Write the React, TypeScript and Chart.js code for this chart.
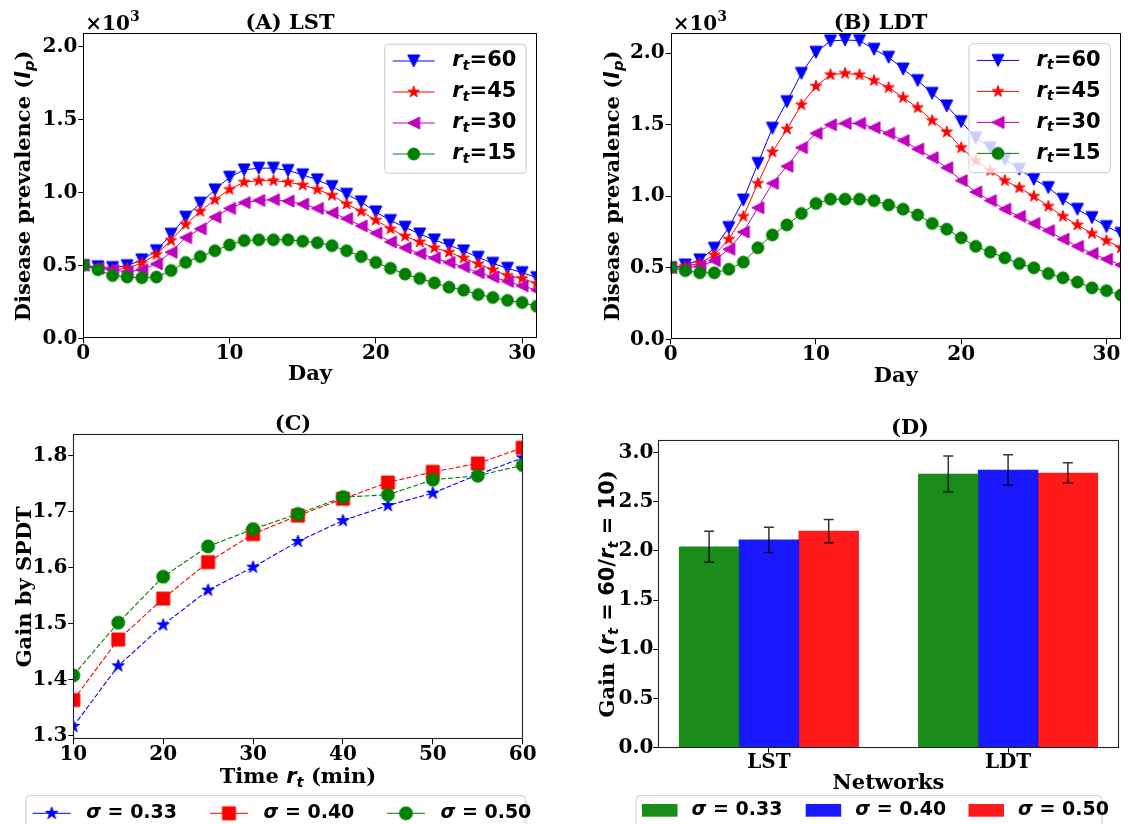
import React, { useEffect, useRef } from 'react';
import { Chart, registerables } from 'chart.js';

Chart.register(...registerables);

// ---------------- data ----------------
const days = [0, 1, 2, 3, 4, 5, 6, 7, 8, 9, 10, 11, 12, 13, 14, 15, 16, 17, 18, 19, 20, 21, 22, 23, 24, 25, 26, 27, 28, 29, 30, 31];

// (A) LST disease prevalence
const lstR60 = [498, 490, 485, 498, 537, 600, 713, 830, 926, 1017, 1104, 1154, 1166, 1166, 1150, 1120, 1086, 1040, 987, 935, 866, 807, 761, 715, 674, 638, 599, 555, 514, 480, 450, 416];
const lstR45 = [500, 480, 470, 480, 515, 575, 670, 780, 870, 950, 1020, 1070, 1080, 1080, 1070, 1050, 1020, 980, 920, 870, 810, 750, 700, 660, 620, 590, 550, 510, 470, 430, 410, 375];
const lstR30 = [500, 480, 470, 455, 470, 510, 590, 690, 750, 830, 890, 930, 945, 950, 940, 920, 890, 860, 820, 770, 720, 660, 620, 580, 550, 520, 490, 450, 420, 390, 360, 330];
const lstR15 = [500, 470, 430, 420, 415, 420, 465, 520, 560, 600, 640, 670, 675, 675, 675, 665, 655, 635, 600, 560, 520, 480, 440, 410, 380, 350, 330, 300, 280, 260, 245, 220];

// (B) LDT disease prevalence
const ldtR60 = [500, 520, 555, 637, 781, 974, 1230, 1476, 1662, 1860, 2007, 2086, 2093, 2089, 2028, 1972, 1890, 1809, 1720, 1632, 1522, 1410, 1340, 1259, 1189, 1119, 1061, 979, 909, 851, 788, 741];
const ldtR45 = [500, 510, 530, 590, 700, 860, 1090, 1310, 1470, 1640, 1770, 1850, 1860, 1850, 1810, 1760, 1690, 1620, 1530, 1450, 1340, 1250, 1180, 1110, 1060, 1000, 930, 860, 800, 740, 690, 640];
const ldtR30 = [500, 500, 510, 550, 630, 750, 920, 1090, 1210, 1340, 1440, 1500, 1510, 1510, 1480, 1440, 1390, 1330, 1270, 1200, 1110, 1030, 970, 910, 860, 810, 760, 700, 650, 600, 560, 520];
const ldtR15 = [500, 480, 465, 465, 490, 540, 640, 730, 800, 880, 950, 980, 980, 980, 970, 940, 910, 870, 810, 770, 710, 650, 610, 570, 530, 500, 460, 430, 400, 360, 340, 310];

const rtLabels = ['60', '45', '30', '15'];

// (C) gain by SPDT vs time r_t
const timeRt = [10, 15, 20, 25, 30, 35, 40, 45, 50, 55, 60];
const gainS033 = [1.317, 1.425, 1.498, 1.56, 1.601, 1.647, 1.684, 1.711, 1.733, 1.766, 1.796];
const gainS040 = [1.364, 1.472, 1.545, 1.61, 1.66, 1.693, 1.723, 1.752, 1.771, 1.786, 1.814];
const gainS050 = [1.408, 1.502, 1.584, 1.638, 1.669, 1.696, 1.726, 1.73, 1.757, 1.764, 1.783];
const sigmaLabels = ['0.33', '0.40', '0.50'];

// (D) gain (r_t = 60 / r_t = 10) per network
const networks = ['LST', 'LDT'];
const barS033 = [2.04, 2.78];
const errS033 = [0.157, 0.183];
const barS040 = [2.11, 2.82];
const errS040 = [0.128, 0.155];
const barS050 = [2.2, 2.79];
const errS050 = [0.118, 0.105];

// ticks
const dayTicks = [0, 10, 20, 30];
const prevTicks = [0, 500, 1000, 1500, 2000];
const timeTicks = [10, 20, 30, 40, 50, 60];
const gainTicks = [1.3, 1.4, 1.5, 1.6, 1.7, 1.8];
const barTicks = [0, 0.5, 1, 1.5, 2, 2.5, 3];
const netTicks = [0, 1];

// ---------------- styles ----------------
const SERIF = '"DejaVu Serif", "Liberation Serif", serif';
const SANS = '"DejaVu Sans", "Liberation Sans", sans-serif';
const lineColors = ['#0000ff', '#ff0000', '#bf00bf', '#008000'];
const lineShapes = ['triDown', 'star', 'triLeft', 'circle'];
const cColors = ['#0000ff', '#ff0000', '#008000'];
const cShapes = ['star', 'square', 'circle'];
const barColors = ['rgba(0,128,0,0.9)', 'rgba(0,0,255,0.9)', 'rgba(255,0,0,0.9)'];

type Seg = { t: string; sans?: boolean; it?: boolean; sub?: boolean; sup?: boolean };

function fontOf(s: Seg, size: number) {
  const sz = s.sub || s.sup ? size * 0.7 : size;
  return `${s.it ? 'italic ' : ''}bold ${sz}px ${s.sans ? SANS : SERIF}`;
}

function drawRich(ctx: CanvasRenderingContext2D, segs: Seg[], x: number, y: number, size: number, align = 'center', angle = 0, color = '#000') {
  ctx.save();
  ctx.translate(x, y);
  ctx.rotate(angle);
  ctx.fillStyle = color;
  ctx.textBaseline = 'middle';
  ctx.textAlign = 'left';
  let w = 0;
  for (const s of segs) {
    ctx.font = fontOf(s, size);
    w += ctx.measureText(s.t).width;
  }
  let cx = align === 'center' ? -w / 2 : align === 'right' ? -w : 0;
  for (const s of segs) {
    ctx.font = fontOf(s, size);
    const dy = s.sub ? size * 0.25 : s.sup ? -size * 0.38 : 0;
    ctx.fillText(s.t, cx, dy);
    cx += ctx.measureText(s.t).width;
  }
  ctx.restore();
}

function makeMarker(shape: string, ms: number, color: string) {
  const n = Math.ceil(ms) + 6;
  const c = document.createElement('canvas');
  c.width = n;
  c.height = n;
  const g = c.getContext('2d')!;
  const cx = n / 2, cy = n / 2, r = ms / 2;
  g.beginPath();
  if (shape === 'circle') g.arc(cx, cy, r, 0, Math.PI * 2);
  else if (shape === 'square') g.rect(cx - r, cy - r, 2 * r, 2 * r);
  else if (shape === 'triDown') { g.moveTo(cx, cy + r); g.lineTo(cx - r, cy - r); g.lineTo(cx + r, cy - r); g.closePath(); }
  else if (shape === 'triLeft') { g.moveTo(cx - r, cy); g.lineTo(cx + r, cy - r); g.lineTo(cx + r, cy + r); g.closePath(); }
  else if (shape === 'star') {
    for (let k = 0; k < 10; k++) {
      const a = -Math.PI / 2 + (k * Math.PI) / 5;
      const rr = k % 2 === 0 ? r : r * 0.381966;
      const px = cx + rr * Math.cos(a), py = cy + rr * Math.sin(a);
      if (k === 0) g.moveTo(px, py); else g.lineTo(px, py);
    }
    g.closePath();
  }
  g.fillStyle = color;
  g.fill();
  g.lineWidth = 1;
  g.strokeStyle = color;
  g.stroke();
  return c;
}

function roundRect(ctx: CanvasRenderingContext2D, x: number, y: number, w: number, h: number, r: number) {
  ctx.beginPath();
  ctx.moveTo(x + r, y);
  ctx.arcTo(x + w, y, x + w, y + h, r);
  ctx.arcTo(x + w, y + h, x, y + h, r);
  ctx.arcTo(x, y + h, x, y, r);
  ctx.arcTo(x, y, x + w, y, r);
  ctx.closePath();
}

function legendBox(ctx: CanvasRenderingContext2D, x: number, y: number, w: number, h: number) {
  ctx.save();
  roundRect(ctx, x, y, w, h, 4);
  ctx.fillStyle = 'rgba(255,255,255,0.8)';
  ctx.fill();
  ctx.strokeStyle = '#cccccc';
  ctx.lineWidth = 1;
  ctx.stroke();
  ctx.restore();
}

function frame(ctx: CanvasRenderingContext2D, ca: any, color: string, lw: number) {
  ctx.save();
  ctx.strokeStyle = color;
  ctx.lineWidth = lw;
  const l = Math.round(ca.left) + 0.5, t = Math.round(ca.top) + 0.5;
  const r = Math.round(ca.right) - 0.5, b = Math.round(ca.bottom) - 0.5;
  ctx.strokeRect(l, t, r - l, b - t);
  ctx.restore();
}

const tickFont = { family: SERIF, weight: 'bold' as const, size: 20, lineHeight: 1 };

function scaleOpts(min: number, max: number, ticks: number[], fmt: (v: number) => string, fit: { w?: number; h?: number; pad?: number }) {
  return {
    type: 'linear' as const,
    min,
    max,
    offset: false,
    afterBuildTicks: (s: any) => { s.ticks = ticks.map((v) => ({ value: v })); },
    afterFit: (s: any) => {
      if (fit.w !== undefined) s.width = fit.w;
      if (fit.h !== undefined) s.height = fit.h;
    },
    ticks: {
      font: tickFont,
      color: '#000',
      padding: fit.pad ?? 1,
      autoSkip: false,
      maxRotation: 0,
      minRotation: 0,
      callback: (v: any) => fmt(Number(v)),
    },
    grid: { display: true, drawOnChartArea: false, drawTicks: true, tickLength: 5, tickColor: '#000', lineWidth: 1, offset: false },
    border: { display: false },
  };
}

const ylabelAB: Seg[] = [{ t: 'Disease prevalence (' }, { t: 'I', sans: true, it: true }, { t: 'p', sans: true, it: true, sub: true }, { t: ')' }];

function prevalenceChart(canvas: HTMLCanvasElement, series: number[][], yMax: number, pad: any, yW: number, xH: number, title: string, titleX: number, ylabX: number, xlabY: number, markers: HTMLCanvasElement[]) {
  const deco = {
    id: 'deco' + title,
    afterDraw(chart: any) {
      const ctx = chart.ctx as CanvasRenderingContext2D;
      const ca = chart.chartArea;
      frame(ctx, ca, '#000', 1);
      drawRich(ctx, [{ t: title }], titleX, 24, 21);
      drawRich(ctx, [{ t: '×10' }, { t: '3', sup: true }], ca.left + 2, 25, 20, 'left');
      drawRich(ctx, ylabelAB, ylabX, (ca.top + ca.bottom) / 2, 21, 'center', -Math.PI / 2);
      drawRich(ctx, [{ t: 'Day' }], (ca.left + ca.right) / 2, xlabY, 21);
      // legend
      const w = 141.5, h = 129;
      const x0 = ca.right - 10.5 - w, y0 = ca.top + 11;
      legendBox(ctx, x0, y0, w, h);
      rtLabels.forEach((lab, i) => {
        const y = y0 + 16.7 + i * 31;
        ctx.save();
        ctx.strokeStyle = lineColors[i];
        ctx.lineWidth = 1;
        ctx.beginPath();
        ctx.moveTo(x0 + 8, y);
        ctx.lineTo(x0 + 50, y);
        ctx.stroke();
        const m = markers[i];
        ctx.drawImage(m, x0 + 29 - m.width / 2, y - m.height / 2);
        ctx.restore();
        drawRich(ctx, [{ t: 'r', sans: true, it: true }, { t: 't', sans: true, it: true, sub: true }, { t: '=' + lab, sans: true }], x0 + 67.5, y, 21, 'left');
      });
    },
  };
  return new Chart(canvas, {
    type: 'line',
    data: {
      datasets: series.map((vals, i) => ({
        label: 'r_t=' + rtLabels[i],
        data: days.map((d, k) => ({ x: d, y: vals[k] })),
        borderColor: lineColors[i],
        backgroundColor: lineColors[i],
        borderWidth: 1,
        tension: 0,
        pointStyle: markers[i] as any,
        pointRadius: 6,
        order: series.length - 1 - i,
      })),
    },
    options: {
      animation: false,
      responsive: false,
      events: [],
      layout: { padding: pad },
      scales: {
        x: scaleOpts(0, 31, dayTicks, (v) => String(v), { h: xH, pad: 0 }) as any,
        y: scaleOpts(0, yMax, prevTicks, (v) => (v / 1000).toFixed(1), { w: yW, pad: 1 }) as any,
      },
      plugins: { legend: { display: false }, title: { display: false }, tooltip: { enabled: false } },
    },
    plugins: [deco],
  });
}

export default function App() {
  const refA = useRef<HTMLCanvasElement>(null);
  const refB = useRef<HTMLCanvasElement>(null);
  const refC = useRef<HTMLCanvasElement>(null);
  const refD = useRef<HTMLCanvasElement>(null);

  useEffect(() => {
    const charts: Chart[] = [];
    const abMarkers = lineShapes.map((s, i) => makeMarker(s, 12, lineColors[i]));
    const cMarkers = cShapes.map((s, i) => makeMarker(s, 13, cColors[i]));

    charts.push(prevalenceChart(refA.current!, [lstR60, lstR45, lstR30, lstR15], 2090, { left: 0, top: 33.3, right: 27.3, bottom: 0 }, 83.3, 61.7, '(A) LST', 290, 25, 375, abMarkers));
    charts.push(prevalenceChart(refB.current!, [ldtR60, ldtR45, ldtR30, ldtR15], 2144, { left: 0, top: 32.7, right: 3.3, bottom: 0 }, 106.7, 60.7, '(B) LDT', 316.5, 50, 376.7, abMarkers));

    // (C)
    const cSeries = [gainS033, gainS040, gainS050];
    const decoC = {
      id: 'decoC',
      afterDraw(chart: any) {
        const ctx = chart.ctx as CanvasRenderingContext2D;
        const ca = chart.chartArea;
        frame(ctx, ca, '#222', 1.1);
        drawRich(ctx, [{ t: '(C)' }], 293, 25, 21);
        drawRich(ctx, [{ t: 'Gain by SPDT' }], 25.5, (ca.top + ca.bottom) / 2, 21, 'center', -Math.PI / 2);
        drawRich(ctx, [{ t: 'Time ' }, { t: 'r', sans: true, it: true }, { t: 't', sans: true, it: true, sub: true }, { t: ' (min)' }], (ca.left + ca.right) / 2, 378, 21);
        legendBox(ctx, 25.8, 395.7, 500, 60);
        const lx = [32.7, 210, 387];
        sigmaLabels.forEach((lab, i) => {
          const y = 413.3;
          ctx.save();
          ctx.strokeStyle = cColors[i];
          ctx.lineWidth = 1;
          ctx.beginPath();
          ctx.moveTo(lx[i], y);
          ctx.lineTo(lx[i] + 38, y);
          ctx.stroke();
          const m = cMarkers[i];
          ctx.drawImage(m, lx[i] + 19 - m.width / 2, y - m.height / 2);
          ctx.restore();
          drawRich(ctx, [{ t: 'σ', sans: true, it: true }, { t: ' = ' + lab, sans: true }], lx[i] + 53.5, y, 19, 'left');
        });
      },
    };
    charts.push(new Chart(refC.current!, {
      type: 'line',
      data: {
        datasets: cSeries.map((vals, i) => ({
          label: 'σ = ' + sigmaLabels[i],
          data: timeRt.map((t, k) => ({ x: t, y: vals[k] })),
          borderColor: cColors[i],
          backgroundColor: cColors[i],
          borderWidth: 1.1,
          borderDash: [5, 2.2],
          tension: 0,
          pointStyle: cMarkers[i] as any,
          pointRadius: 6.5,
          order: cSeries.length - 1 - i,
        })),
      },
      options: {
        animation: false,
        responsive: false,
        events: [],
        layout: { padding: { left: 0, top: 34.3, right: 41.3, bottom: 0 } },
        scales: {
          x: scaleOpts(10, 60, timeTicks, (v) => String(v), { h: 84.7, pad: 0 }) as any,
          y: scaleOpts(1.294, 1.838, gainTicks, (v) => v.toFixed(1), { w: 73.3, pad: 1 }) as any,
        },
        plugins: { legend: { display: false }, title: { display: false }, tooltip: { enabled: false } },
      },
      plugins: [decoC],
    }));

    // (D)
    const dVals = [barS033, barS040, barS050];
    const dErrs = [errS033, errS040, errS050];
    const decoD = {
      id: 'decoD',
      afterDatasetsDraw(chart: any) {
        const ctx = chart.ctx as CanvasRenderingContext2D;
        const ys = chart.scales.y;
        ctx.save();
        ctx.strokeStyle = 'rgba(0,0,0,0.8)';
        ctx.lineWidth = 1.5;
        dVals.forEach((vals, k) => {
          const meta = chart.getDatasetMeta(k);
          meta.data.forEach((bar: any, i: number) => {
            const x = bar.x;
            const yt = ys.getPixelForValue(vals[i] + dErrs[k][i]);
            const yb = ys.getPixelForValue(vals[i] - dErrs[k][i]);
            ctx.beginPath();
            ctx.moveTo(x, yt);
            ctx.lineTo(x, yb);
            ctx.moveTo(x - 5, yt);
            ctx.lineTo(x + 5, yt);
            ctx.moveTo(x - 5, yb);
            ctx.lineTo(x + 5, yb);
            ctx.stroke();
          });
        });
        ctx.restore();
      },
      afterDraw(chart: any) {
        const ctx = chart.ctx as CanvasRenderingContext2D;
        const ca = chart.chartArea;
        frame(ctx, ca, '#222', 1.1);
        drawRich(ctx, [{ t: '(D)' }], 346, 28.5, 21);
        drawRich(ctx, [{ t: 'Gain (' }, { t: 'r', sans: true, it: true }, { t: 't', sans: true, it: true, sub: true }, { t: ' = 60/', sans: true }, { t: 'r', sans: true, it: true }, { t: 't', sans: true, it: true, sub: true }, { t: ' = 10', sans: true }, { t: ')' }], 45, (ca.top + ca.bottom) / 2, 21, 'center', -Math.PI / 2);
        drawRich(ctx, [{ t: 'Networks' }], (ca.left + ca.right) / 2, 383.5, 21);
        legendBox(ctx, 72, 395.7, 466, 60);
        const px = [78, 241.7, 404.5];
        sigmaLabels.forEach((lab, i) => {
          ctx.save();
          ctx.fillStyle = barColors[i];
          ctx.fillRect(px[i], 404, 35.5, 12.7);
          ctx.restore();
          drawRich(ctx, [{ t: 'σ', sans: true, it: true }, { t: ' = ' + lab, sans: true }], px[i] + 49.6, 410.3, 19, 'left');
        });
      },
    };
    charts.push(new Chart(refD.current!, {
      type: 'bar',
      data: {
        datasets: dVals.map((vals, k) => ({
          label: 'σ = ' + sigmaLabels[k],
          data: networks.map((_, i) => ({ x: i + (k - 1) * 0.25, y: vals[i] })),
          backgroundColor: barColors[k],
          borderWidth: 0,
          grouped: false,
          categoryPercentage: 1,
          barPercentage: 1,
        })),
      },
      options: {
        animation: false,
        responsive: false,
        events: [],
        layout: { padding: { left: 0, top: 40, right: 9.3, bottom: 0 } },
        scales: {
          x: { ...(scaleOpts(-0.4625, 1.4625, netTicks, (v) => networks[Math.round(v)] ?? '', { h: 76.3, pad: 0 }) as any), grid: { display: true, drawOnChartArea: false, drawTicks: true, tickLength: 5, tickColor: '#000', lineWidth: 1, offset: false } },
          y: scaleOpts(0, 3.125, barTicks, (v) => v.toFixed(1), { w: 94.3, pad: 0 }) as any,
        },
        plugins: { legend: { display: false }, title: { display: false }, tooltip: { enabled: false } },
      },
      plugins: [decoD],
    }));

    return () => charts.forEach((c) => c.destroy());
  }, []);

  const cv = (left: number, top: number, w: number, h: number) => ({ position: 'absolute' as const, left, top, width: w, height: h });

  return (
    <div style={{ position: 'absolute', left: 0, top: 0, width: 1128, height: 824, background: '#fff', overflow: 'hidden' }}>
      <canvas ref={refA} width={564} height={400} style={cv(0, 0, 564, 400)} />
      <canvas ref={refB} width={564} height={400} style={cv(564, 0, 564, 400)} />
      <canvas ref={refC} width={564} height={424} style={cv(0, 400, 564, 424)} />
      <canvas ref={refD} width={564} height={424} style={cv(564, 400, 564, 424)} />
    </div>
  );
}
